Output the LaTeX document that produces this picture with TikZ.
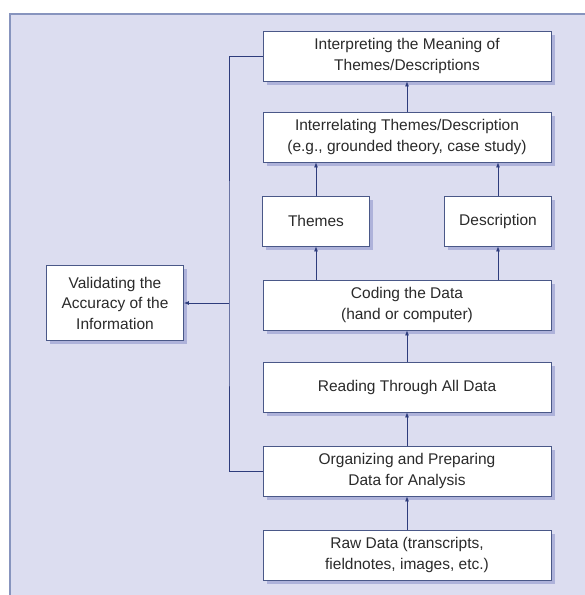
\documentclass[tikz,border=0pt]{standalone}
\usepackage{fontspec}
\setmainfont{Liberation Sans}
\usetikzlibrary{arrows.meta,shadows}
\definecolor{framebg}{HTML}{DCDDF0}
\definecolor{frameline}{HTML}{8794BE}
\definecolor{boxline}{HTML}{4A5888}
\definecolor{shadowblue}{HTML}{AEB2DA}
\definecolor{linkblue}{HTML}{2E3C7C}
\definecolor{textgrey}{HTML}{2A2A2A}

\begin{document}
\begin{tikzpicture}
[
    x=1pt, y=-1pt,
    box/.style={draw=boxline,line width=0.8pt,fill=white,inner sep=0pt,
      minimum height=50pt,align=center,text=textgrey,
      font=\fontsize{15.5}{20.5}\selectfont,
      drop shadow={shadow xshift=3.5pt,shadow yshift=-3.5pt,fill=shadowblue,opacity=1}},
    widebox/.style={box,minimum width=288pt},
    smallbox/.style={box,minimum width=107pt},
    link/.style={draw=linkblue,line width=0.8pt,-{Latex[length=5pt,width=4pt]}},
    plain/.style={draw=linkblue,line width=0.8pt}
  ]

  \useasboundingbox (0,0) rectangle (585,595);
  \fill[white] (0,0) rectangle (585,595);
  \fill[framebg] (10,14) rectangle (585,595);
  \draw[frameline,line width=1.2pt] (10,595) -- (10,14) -- (585,14);

  % main column
  \node[widebox] (interp) at (407,56) {Interpreting the Meaning of\\Themes/Descriptions};
  \node[widebox] (interrel) at (407,137) {Interrelating Themes/Description\\(e.g., grounded theory, case study)};
  \node[smallbox] (themes) at (316,221) {Themes};
  \node[smallbox] (descr) at (498,221) {Description};
  \node[widebox] (coding) at (407,305) {Coding the Data\\(hand or computer)};
  \node[widebox] (reading) at (407,387) {Reading Through All Data};
  \node[widebox] (organ) at (407,471) {Organizing and Preparing\\Data for Analysis};
  \node[widebox] (raw) at (407,555) {Raw Data (transcripts,\\fieldnotes, images, etc.)};

  % side box
  \node[box,minimum width=137pt,minimum height=75pt] (valid) at (115,303) {Validating the\\Accuracy of the\\Information};

  \draw[link] (raw) -- (organ);
  \draw[link] (organ) -- (reading);
  \draw[link] (reading) -- (coding);
  \draw[link] (coding.north -| themes) -- (themes);
  \draw[link] (coding.north -| descr) -- (descr);
  \draw[link] (themes) -- (interrel.south -| themes);
  \draw[link] (descr) -- (interrel.south -| descr);
  \draw[link] (interrel) -- (interp);

  \coordinate (spine) at (229,303);
  \draw[plain] (interp.west) -| (spine) |- (organ.west);
  \draw[link] (spine) -- (valid.east);
\end{tikzpicture}
\end{document}
